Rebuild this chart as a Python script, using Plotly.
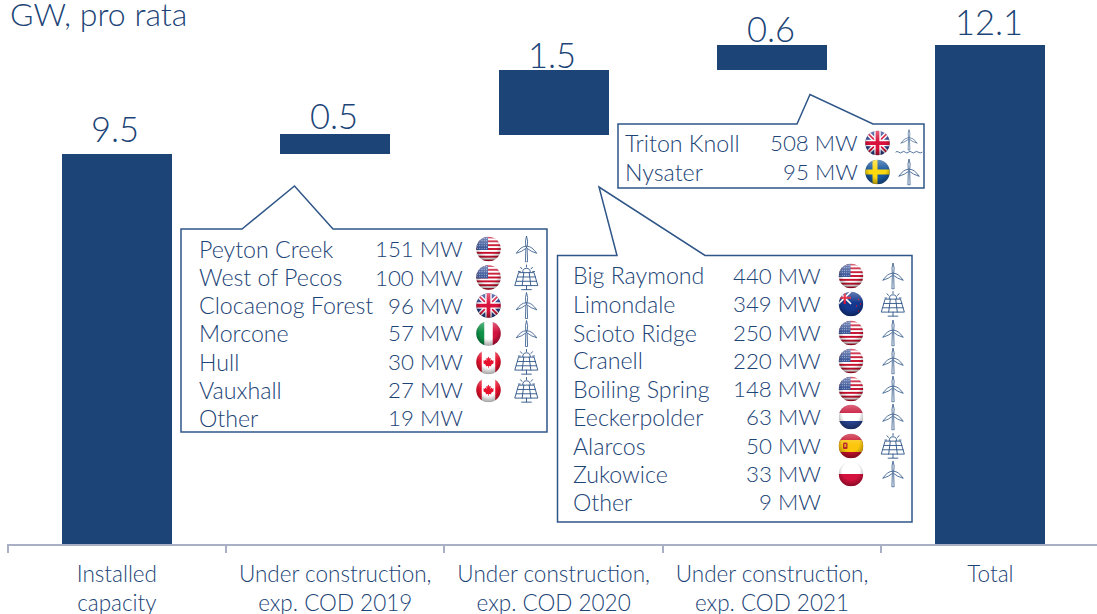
import base64
import plotly.graph_objects as go

# ---------- data ----------
categories = ["Installed<br>capacity", "Under construction,<br>exp. COD 2019",
              "Under construction,<br>exp. COD 2020", "Under construction,<br>exp. COD 2021", "Total"]
bar_base = [0, 9.46, 9.92, 11.49, 0]
bar_height = [9.46, 0.48, 1.57, 0.61, 12.1]
bar_labels = ["9.5", "0.5", "1.5", "0.6", "12.1"]

names_2019 = ["Peyton Creek", "West of Pecos", "Clocaenog Forest", "Morcone", "Hull", "Vauxhall", "Other"]
mw_2019 = ["151 MW", "100 MW", "96 MW", "57 MW", "30 MW", "27 MW", "19 MW"]
flags_2019 = ["us", "us", "uk", "it", "ca", "ca", None]
tech_2019 = ["wind", "solar", "wind", "wind", "solar", "solar", None]
rows_2019 = [249, 277.5, 305.5, 333.5, 362, 390, 418]

names_2020 = ["Big Raymond", "Limondale", "Scioto Ridge", "Cranell", "Boiling Spring", "Eeckerpolder", "Alarcos", "Zukowice", "Other"]
mw_2020 = ["440 MW", "349 MW", "250 MW", "220 MW", "148 MW", "63 MW", "50 MW", "33 MW", "9 MW"]
flags_2020 = ["us", "nz", "us", "us", "us", "nl", "es", "pl", None]
tech_2020 = ["wind", "solar", "wind", "wind", "wind", "wind", "solar", "wind", None]
rows_2020 = [276, 304, 333, 361, 389, 417, 446, 474, 502]

names_2021 = ["Triton Knoll", "Nysater"]
mw_2021 = ["508 MW", "95 MW"]
flags_2021 = ["uk", "se"]
tech_2021 = ["offshore", "wind"]
rows_2021 = [143, 172]

NAVY = "#1c4476"
TEXT = "#1c4476"
LINE = "#2f5688"
AXIS = "#a9afc4"
FONT = "Lato"
WEIGHT = 300
LABEL_GAP = [25, 19, 16, 17, 24]

# ---------- helpers: pixel -> paper ----------
L, R, BASE = 7, 1097, 544
def px(x): return (x - L) / (R - L)
def py(y): return (BASE - y) / BASE

def uri(svg):
    return "data:image/svg+xml;base64," + base64.b64encode(svg.encode()).decode()

def flag_svg(art):
    return uri(f'''<svg xmlns="http://www.w3.org/2000/svg" viewBox="0 0 100 100" width="100" height="100">
<defs><clipPath id="c"><circle cx="50" cy="50" r="49"/></clipPath>
<radialGradient id="g" cx="50%" cy="38%" r="62%">
<stop offset="0.55" stop-color="#000" stop-opacity="0"/><stop offset="1" stop-color="#000" stop-opacity="0.38"/></radialGradient>
<linearGradient id="h" x1="0" y1="0" x2="0" y2="1"><stop offset="0" stop-color="#fff" stop-opacity="0.35"/><stop offset="0.45" stop-color="#fff" stop-opacity="0"/></linearGradient>
</defs><g clip-path="url(#c)">{art}<rect width="100" height="100" fill="url(#g)"/><rect width="100" height="100" fill="url(#h)"/></g></svg>''')

def stripes():
    s = '<rect width="100" height="100" fill="#fff"/>'
    for i in range(0, 13, 2):
        s += f'<rect y="{i*100/13:.2f}" width="100" height="{100/13:.2f}" fill="#c8102e"/>'
    s += '<rect width="48" height="54" fill="#3f5a9c"/>'
    for r in range(5):
        for c in range(5):
            s += f'<circle cx="{6+c*9}" cy="{7+r*10}" r="1.7" fill="#fff"/>'
    return s

UNION = ('<rect width="100" height="100" fill="#2b3f8f"/>'
         '<path d="M0 0L100 100M100 0L0 100" stroke="#fff" stroke-width="18"/>'
         '<path d="M0 0L100 100M100 0L0 100" stroke="#d8123c" stroke-width="7"/>'
         '<path d="M50 0V100M0 50H100" stroke="#fff" stroke-width="26"/>'
         '<path d="M50 0V100M0 50H100" stroke="#d8123c" stroke-width="15"/>')
LEAF = ('<g transform="translate(50,50) scale(.72) translate(-50,-52)"><path d="M50 22L56 33L63 30L60 46L68 38L71 45L80 43L76 54L80 57L64 69L66 76L52 74V84H48V74L34 76L36 69L20 57L24 54L20 43L29 45L32 38L40 46L37 30L44 33Z" fill="#e8112d"/></g>')
FLAGS = {
    "us": stripes(),
    "uk": UNION,
    "it": '<rect width="34" height="100" fill="#0f9247"/><rect x="34" width="33" height="100" fill="#fff"/><rect x="67" width="33" height="100" fill="#d3123f"/>',
    "ca": '<rect width="100" height="100" fill="#fff"/><rect width="23" height="100" fill="#e8112d"/><rect x="77" width="23" height="100" fill="#e8112d"/>' + LEAF,
    "nz": '<rect width="100" height="100" fill="#14388f"/><g transform="scale(0.5)"><path d="M0 0L100 100M100 0L0 100" stroke="#fff" stroke-width="14"/><path d="M50 0V100M0 50H100" stroke="#e8112d" stroke-width="16"/></g><circle cx="80" cy="32" r="3" fill="#e8112d"/><circle cx="88" cy="50" r="3" fill="#e8112d"/><circle cx="72" cy="58" r="3" fill="#e8112d"/><circle cx="80" cy="78" r="3" fill="#e8112d"/>',
    "nl": '<rect width="100" height="34" fill="#c8163a"/><rect y="34" width="100" height="32" fill="#fff"/><rect y="66" width="100" height="34" fill="#26428f"/>',
    "es": '<rect width="100" height="100" fill="#c6112c"/><rect y="26" width="100" height="48" fill="#fbc60c"/><rect x="18" y="36" width="18" height="26" rx="5" fill="#b5272a"/><rect x="23" y="42" width="8" height="12" fill="#e7a021"/>',
    "pl": '<rect width="100" height="50" fill="#fff"/><rect y="50" width="100" height="50" fill="#d4123d"/>',
    "se": '<rect width="100" height="100" fill="#1a5aa0"/><rect x="30" width="20" height="100" fill="#fcd80f"/><rect y="40" width="100" height="20" fill="#fcd80f"/>',
}
FLAG_URI = {k: flag_svg(v) for k, v in FLAGS.items()}

ST = f'fill="none" stroke="{LINE}" stroke-linejoin="round" stroke-linecap="round"'
TURBINE = (f'<g {ST} stroke-width="3"><path d="M47.5 50L46 98H54L52.5 50"/>'
           '<path d="M47 38Q44 20 50 2Q57 20 53 38Z"/><path d="M54 40Q70 40 88 66Q66 60 51 47Z"/><path d="M46 40Q30 40 12 66Q34 60 49 47Z"/></g>')
WIND_URI = uri(f'<svg xmlns="http://www.w3.org/2000/svg" viewBox="0 0 100 100" width="100" height="100">{TURBINE}</svg>')
OFF_URI = uri(f'<svg xmlns="http://www.w3.org/2000/svg" viewBox="0 0 100 100" width="100" height="100"><g transform="translate(10,-2) scale(.8)">{TURBINE}</g>'
              f'<path {ST} stroke-width="3" d="M0 84Q6 78 12 84T24 84T36 84T48 84T60 84T72 84T84 84T100 84"/></svg>')
SOLAR_URI = uri(f'''<svg xmlns="http://www.w3.org/2000/svg" viewBox="0 0 100 100" width="100" height="100"><g {ST} stroke-width="3.4">
<path d="M36 30A14 14 0 0 1 64 30"/><path d="M50 4V11M28 12L33 18M72 12L67 18M20 28H27M73 28H80"/>
<path d="M22 32H78L92 80H8Z"/><path d="M17 48H83M12.5 64H87.5M40 32L34 80M60 32L66 80"/><path d="M50 80V94M32 95H68"/></g></svg>''')
TECH_URI = {"wind": WIND_URI, "solar": SOLAR_URI, "offshore": OFF_URI}

# ---------- figure ----------
x_idx = list(range(len(categories)))
tops = [b + h for b, h in zip(bar_base, bar_height)]
fig = go.Figure()
fig.add_trace(go.Bar(x=x_idx, y=bar_height, base=bar_base, width=0.504,
                     marker=dict(color=NAVY, line_width=0), showlegend=False, hoverinfo="skip"))

annotations, images, shapes = [], [], []
for i, t, lab, g in zip(x_idx, tops, bar_labels, LABEL_GAP):
    annotations.append(dict(x=i, y=t, xref="x", yref="y", text=lab, showarrow=False, yanchor="middle",
                            yshift=g, xshift=-1.5, font=dict(family=FONT, size=34.5, color=TEXT, weight=WEIGHT)))
annotations.append(dict(text="GW, pro rata", xref="paper", yref="paper", x=px(8), y=py(13),
                        xanchor="left", yanchor="middle", showarrow=False,
                        font=dict(family=FONT, size=32, color=TEXT, weight=WEIGHT)))

def poly(points):
    d = "M" + "L".join(f"{px(x):.5f},{py(y):.5f}" for x, y in points) + "Z"
    shapes.append(dict(type="path", path=d, xref="paper", yref="paper",
                       line=dict(color=LINE, width=1.5), fillcolor="rgba(255,255,255,0)"))

poly([(181, 229), (242, 229), (294.5, 186), (333, 229), (547, 229), (547, 432), (181, 432)])
poly([(557.5, 255.5), (617, 255.5), (599, 187), (705, 255.5), (912, 255.5), (912, 522), (557.5, 522)])
poly([(618, 124), (797, 124), (810, 94.5), (873, 124), (924, 124), (924, 188), (618, 188)])

def block(names, mws, flags, techs, rows, x_name, x_mw, x_flag, x_icon):
    for n, m, f, t, y in zip(names, mws, flags, techs, rows):
        annotations.append(dict(text=n, xref="paper", yref="paper", x=px(x_name), y=py(y - 0.5), xanchor="left",
                                yanchor="middle", showarrow=False,
                                font=dict(family=FONT, size=23.2, color=TEXT, weight=WEIGHT)))
        annotations.append(dict(text=m, xref="paper", yref="paper", x=px(x_mw), y=py(y - 0.5), xanchor="right",
                                yanchor="middle", showarrow=False,
                                font=dict(family=FONT, size=22.3, color=TEXT, weight=WEIGHT)))
        if f:
            images.append(dict(source=FLAG_URI[f], xref="paper", yref="paper", x=px(x_flag), y=py(y),
                               sizex=25/(R-L), sizey=25/BASE, xanchor="center", yanchor="middle",
                               sizing="stretch", layer="above"))
        if t:
            s = 27
            images.append(dict(source=TECH_URI[t], xref="paper", yref="paper", x=px(x_icon), y=py(y),
                               sizex=s/(R-L), sizey=s/BASE, xanchor="center", yanchor="middle",
                               sizing="stretch", layer="above"))

block(names_2019, mw_2019, flags_2019, tech_2019, rows_2019, 197, 465, 488.5, 526.5)
block(names_2020, mw_2020, flags_2020, tech_2020, rows_2020, 571, 823, 851, 893)
block(names_2021, mw_2021, flags_2021, tech_2021, rows_2021, 623, 860, 877.5, 909)

fig.update_layout(
    width=1097, height=614, autosize=False, paper_bgcolor="white", plot_bgcolor="white",
    margin=dict(l=L, r=0, t=0, b=614 - BASE, autoexpand=False), bargap=0,
    annotations=annotations, images=images, shapes=shapes,
    xaxis=dict(type="linear", range=[-0.503, 4.488], tickmode="array", tickvals=[-0.5, 0.5, 1.5, 2.5, 3.5],
               ticktext=[""] * 5, ticks="outside", ticklen=7, tickwidth=1.5, tickcolor=AXIS,
               showline=True, linecolor=AXIS, linewidth=1.5, showgrid=False, zeroline=False, fixedrange=True),
    yaxis=dict(range=[0, BASE / 41.24], visible=False, fixedrange=True),
    xaxis2=dict(type="linear", overlaying="x", matches="x", side="bottom", anchor="y",
                tickmode="array", tickvals=x_idx, ticktext=categories, ticks="", showline=False,
                showgrid=False, zeroline=False, ticklabelstandoff=14,
                tickfont=dict(family=FONT, size=22.5, color=TEXT, weight=WEIGHT)),
)
fig.add_trace(go.Scatter(x=x_idx, y=[0]*5, xaxis="x2", mode="markers", marker=dict(opacity=0), showlegend=False, hoverinfo="skip"))
fig.write_html("out.html", config=dict(displayModeBar=False),
               post_script="document.body.style.margin='0';document.documentElement.style.overflow='hidden';")
